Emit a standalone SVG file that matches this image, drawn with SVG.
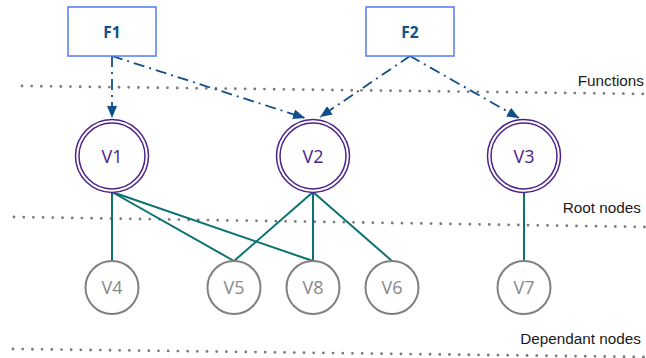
<svg xmlns="http://www.w3.org/2000/svg" width="646" height="358" viewBox="0 0 646 358">
<style>
.sep{stroke:#7a7a7a;stroke-width:2.8;stroke-linecap:round;stroke-dasharray:0 9.7;fill:none}
.lbl{font-family:"Liberation Sans",Arial,sans-serif;font-size:15.3px;fill:#1a1a1a;text-anchor:end}
.fbox{fill:#fff;stroke:#4f7cf6;stroke-width:1.5}
.ftxt{font-family:"Open Sans","DejaVu Sans",sans-serif;font-weight:bold;font-size:15.5px;fill:#124f8c;text-anchor:middle}
.root{fill:#fff;stroke:#4b238c;stroke-width:1.5}
.rtxt{font-family:"Open Sans","DejaVu Sans",sans-serif;font-size:18px;fill:#4b238c;text-anchor:middle}
.dep{fill:#fff;stroke:#808080;stroke-width:2}
.dtxt{font-family:"Open Sans","DejaVu Sans",sans-serif;font-size:18px;fill:#888;text-anchor:middle}
.fn{stroke:#0f4f8a;stroke-width:1.8;fill:none;stroke-dasharray:11 5 2 5;marker-end:url(#ah)}
.dp{stroke:#0a7272;stroke-width:2;fill:none}
</style>
<defs>
<marker id="ah" markerUnits="userSpaceOnUse" viewBox="0 0 12 10" markerWidth="12" markerHeight="10" refX="12" refY="5" orient="auto">
<path d="M0,0 L12,5 L0,10 z" fill="#0f4f8a"/>
</marker>
</defs>
<g id="separators">
<line class="sep" x1="22" y1="86" x2="646" y2="94"/>
<line class="sep" x1="14" y1="217" x2="646" y2="227"/>
<line class="sep" x1="13" y1="349" x2="646" y2="357"/>
<text class="lbl" x="644" y="86">Functions</text>
<text class="lbl" x="641" y="212.5">Root nodes</text>
<text class="lbl" x="641" y="343.5">Dependant nodes</text>
</g>
<g id="connectors">
<line class="fn" x1="112" y1="56" x2="112" y2="118"/>
<line class="fn" x1="112" y1="56" x2="305" y2="118"/>
<line class="fn" x1="410" y1="56" x2="320" y2="117"/>
<line class="fn" x1="410" y1="56" x2="519" y2="118"/>
<line class="dp" x1="112" y1="192" x2="112" y2="261"/>
<line class="dp" x1="112" y1="192" x2="234" y2="261"/>
<line class="dp" x1="112" y1="192" x2="313" y2="261"/>
<line class="dp" x1="313" y1="192" x2="234" y2="261"/>
<line class="dp" x1="313" y1="192" x2="313" y2="261"/>
<line class="dp" x1="313" y1="192" x2="392" y2="261"/>
<line class="dp" x1="524" y1="192" x2="524" y2="261"/>
</g>
<g id="F1"><rect class="fbox" x="68" y="7" width="88" height="49"/><text class="ftxt" x="112" y="37.5">F1</text></g>
<g id="F2"><rect class="fbox" x="366" y="7" width="88" height="49"/><text class="ftxt" x="410" y="37.5">F2</text></g>
<g id="V1"><circle class="root" cx="112" cy="156" r="36.5"/><circle class="root" cx="112" cy="156" r="33"/><text class="rtxt" x="112" y="162.5">V1</text></g>
<g id="V2"><circle class="root" cx="313" cy="156" r="36.5"/><circle class="root" cx="313" cy="156" r="33"/><text class="rtxt" x="313" y="162.5">V2</text></g>
<g id="V3"><circle class="root" cx="524" cy="156" r="36.5"/><circle class="root" cx="524" cy="156" r="33"/><text class="rtxt" x="524" y="162.5">V3</text></g>
<g id="V4"><circle class="dep" cx="112" cy="287.5" r="26.5"/><text class="dtxt" x="112" y="294">V4</text></g>
<g id="V5"><circle class="dep" cx="234" cy="287.5" r="26.5"/><text class="dtxt" x="234" y="294">V5</text></g>
<g id="V8"><circle class="dep" cx="313" cy="287.5" r="26.5"/><text class="dtxt" x="313" y="294">V8</text></g>
<g id="V6"><circle class="dep" cx="392" cy="287.5" r="26.5"/><text class="dtxt" x="392" y="294">V6</text></g>
<g id="V7"><circle class="dep" cx="524" cy="287.5" r="26.5"/><text class="dtxt" x="524" y="294">V7</text></g>
</svg>
